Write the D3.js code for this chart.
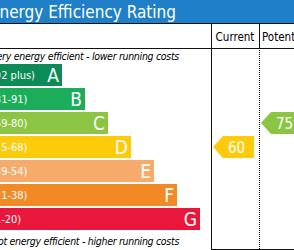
<!DOCTYPE html>
<html>
<head>
<meta charset="utf-8">
<script src="https://cdn.jsdelivr.net/npm/d3@7"></script>
<style>
  html, body { margin: 0; padding: 0; background: #fff; overflow: hidden; }
  svg { display: block; font-family: "DejaVu Sans", "Noto Sans", sans-serif; font-stretch: condensed; }
</style>
</head>
<body>
<div id="chart"></div>
<script>
// EPC bands, top (best) to bottom (worst)
const bands = ["A", "B", "C", "D", "E", "F", "G"];
const bandRanges = ["(92 plus)", "(81-91)", "(69-80)", "(55-68)", "(39-54)", "(21-38)", "(1-20)"];
const bandMin = [92, 81, 69, 55, 39, 21, 1];
const bandColors = ["#0c8a57", "#1bad5a", "#8cc543", "#fecb0b", "#f6ab6b", "#f18a24", "#e8173b"];
const columns = ["Current", "Potential"];
const scores = [60, 75];

const width = 294, height = 250;

const svg = d3.select("#chart").append("svg")
  .attr("width", width)
  .attr("height", height);

// header bar
svg.append("rect")
  .attr("x", 0).attr("y", 0)
  .attr("width", width).attr("height", 23)
  .style("fill", "#1f7fc9");
svg.append("text")
  .attr("x", 176).attr("y", 18)
  .attr("text-anchor", "end")
  .style("fill", "#fff")
  .style("font-size", "17px")
  .text("Energy Efficiency Rating");

// scales
const y = d3.scaleBand().domain(bands).range([64, 230]).paddingInner(2 / 24);
const barEnd = d3.scaleLinear().domain([0, bands.length - 1]).range([62, 200]);
const colX = d3.scaleBand().domain(columns).range([211, 307]);

function bandFor(score) {
  return bands[bandMin.findIndex(m => score >= m)];
}

// bars
const bars = svg.append("g").selectAll("g").data(bands).enter().append("g");
bars.append("rect")
  .attr("x", -40)
  .attr("y", d => y(d))
  .attr("width", (d, i) => barEnd(i) + 40)
  .attr("height", y.bandwidth())
  .style("fill", (d, i) => bandColors[i]);
bars.append("text")
  .attr("x", -9)
  .attr("y", d => y(d) + y.bandwidth() / 2 + 4)
  .style("fill", "#fff")
  .style("font-size", "11px")
  .text((d, i) => bandRanges[i]);
bars.append("text")
  .attr("x", (d, i) => barEnd(i) - 3)
  .attr("y", d => y(d) + y.bandwidth() / 2 + 7)
  .attr("text-anchor", "end")
  .style("fill", "#fff")
  .style("font-size", "19px")
  .text(d => d);

// captions
svg.append("text")
  .attr("x", 179).attr("y", 60)
  .attr("text-anchor", "end")
  .style("font-size", "10.5px").style("font-style", "italic")
  .style("letter-spacing", "-0.3px")
  .text("Very energy efficient - lower running costs");
svg.append("text")
  .attr("x", 179).attr("y", 245)
  .attr("text-anchor", "end")
  .style("font-size", "10.5px").style("font-style", "italic")
  .style("letter-spacing", "-0.3px")
  .text("Not energy efficient - higher running costs");

// column headers
svg.selectAll(".colhead").data(columns).enter().append("text")
  .attr("x", d => d == "Current" ? colX(d) + colX.bandwidth() / 2 : colX(d) + 3)
  .attr("y", 41)
  .attr("text-anchor", d => d == "Current" ? "middle" : "start")
  .style("font-size", "11.5px")
  .text(d => d);

// grid lines
const line = (x1, y1, x2, y2) => svg.append("line")
  .attr("x1", x1).attr("y1", y1).attr("x2", x2).attr("y2", y2)
  .style("stroke", "#111").style("stroke-width", 1);
line(0, 23.5, width, 23.5);
line(0, 48.5, width, 48.5);
line(211.5, 23, 211.5, height);
line(259.5, 23, 259.5, 48);
line(259.5, 48, 259.5, height).style("stroke-dasharray", "1,1");
line(211, 249.5, width, 249.5);

// score arrows
columns.forEach((c, i) => {
  const band = bandFor(scores[i]);
  const bi = bands.indexOf(band);
  const x0 = colX(c) + 2, x1 = colX(c) + colX.bandwidth() - 5;
  const top = y(band), bot = y(band) + y.bandwidth(), mid = (top + bot) / 2;
  svg.append("path")
    .attr("d", `M${x0},${mid}L${x0 + 10},${top}H${x1}V${bot}H${x0 + 10}Z`)
    .style("fill", bandColors[bi]);
  svg.append("text")
    .attr("x", (x0 + 6 + x1) / 2)
    .attr("y", mid + 5.5)
    .attr("text-anchor", "middle")
    .style("fill", "#fff")
    .style("font-size", "15px")
    .text(scores[i]);
});
</script>
</body>
</html>
